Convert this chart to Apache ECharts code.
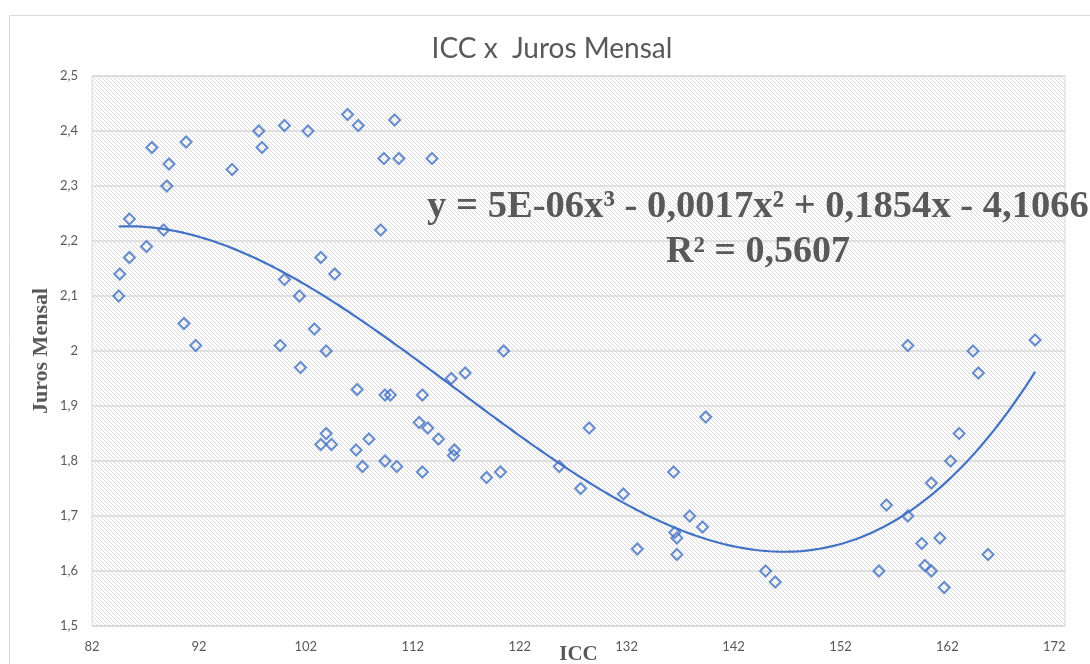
<!DOCTYPE html>
<html>
<head>
<meta charset="utf-8">
<title>ICC x Juros Mensal</title>
<script src="https://cdn.jsdelivr.net/npm/echarts@6/dist/echarts.min.js"></script>
<style>
    html, body { margin: 0; padding: 0; background: #fff; }
    #chart { width: 1090px; height: 664px; }
</style>
</head>
<body>
<div id="chart"></div>
<script>
// ICC (eixo x)
const icc = [
    84.5, 84.6, 85.5, 85.5, 87.1, 87.6, 88.7, 89.0, 89.2, 90.6,
    90.8, 91.7, 95.1, 97.6, 97.9, 99.6, 100.0, 100.0, 101.4, 101.5,
    102.2, 102.8, 103.4, 103.4, 103.9, 103.9, 104.4, 104.7, 105.9, 106.7,
    106.8, 106.9, 107.3, 107.9, 109.0, 109.3, 109.4, 109.4, 109.9, 110.3,
    110.5, 110.7, 112.6, 112.9, 112.9, 113.4, 113.8, 114.4, 115.6, 115.8,
    115.9, 116.9, 118.9, 120.2, 120.5, 125.7, 127.7, 128.5, 131.7, 133.0,
    136.4, 136.5, 136.7, 136.7, 137.9, 139.1, 139.4, 145.0, 145.9, 155.6,
    156.3, 158.3, 158.3, 159.6, 159.9, 160.5, 160.5, 161.3, 161.7, 162.3,
    163.1, 164.4, 164.9, 165.8, 170.2
];
// Juros mensal (eixo y)
const juros = [
    2.10, 2.14, 2.17, 2.24, 2.19, 2.37, 2.22, 2.30, 2.34, 2.05,
    2.38, 2.01, 2.33, 2.40, 2.37, 2.01, 2.41, 2.13, 2.10, 1.97,
    2.40, 2.04, 2.17, 1.83, 2.00, 1.85, 1.83, 2.14, 2.43, 1.82,
    1.93, 2.41, 1.79, 1.84, 2.22, 2.35, 1.92, 1.80, 1.92, 2.42,
    1.79, 2.35, 1.87, 1.92, 1.78, 1.86, 2.35, 1.84, 1.95, 1.81,
    1.82, 1.96, 1.77, 1.78, 2.00, 1.79, 1.75, 1.86, 1.74, 1.64,
    1.78, 1.67, 1.66, 1.63, 1.70, 1.68, 1.88, 1.60, 1.58, 1.60,
    1.72, 1.70, 2.01, 1.65, 1.61, 1.76, 1.60, 1.66, 1.57, 1.80,
    1.85, 2.00, 1.96, 1.63, 2.02
];

const equationText = "y = 5E-06x³ - 0,0017x² + 0,1854x - 4,1066";
const r2Text = "R² = 0,5607";

// pontos do gráfico
let points = [];
for (let i = 0; i < icc.length; i++) {
    points.push([icc[i], juros[i]]);
}

// linha de tendência polinomial (grau 3) por mínimos quadrados
function polyFit(xs, ys, degree) {
    const n = degree + 1;
    let A = [];
    for (let r = 0; r < n; r++) {
        A.push(new Array(n + 1).fill(0));
    }
    for (let k = 0; k < xs.length; k++) {
        for (let r = 0; r < n; r++) {
            for (let c = 0; c < n; c++) {
                A[r][c] += Math.pow(xs[k], r + c);
            }
            A[r][n] += ys[k] * Math.pow(xs[k], r);
        }
    }
    // eliminação de Gauss
    for (let i = 0; i < n; i++) {
        let max = i;
        for (let j = i + 1; j < n; j++) {
            if (Math.abs(A[j][i]) > Math.abs(A[max][i])) max = j;
        }
        [A[i], A[max]] = [A[max], A[i]];
        for (let j = i + 1; j < n; j++) {
            const f = A[j][i] / A[i][i];
            for (let c = i; c <= n; c++) A[j][c] -= f * A[i][c];
        }
    }
    let coef = new Array(n).fill(0);
    for (let i = n - 1; i >= 0; i--) {
        let s = A[i][n];
        for (let c = i + 1; c < n; c++) s -= A[i][c] * coef[c];
        coef[i] = s / A[i][i];
    }
    return coef;
}

// centraliza x para estabilidade numérica
const xMean = icc.reduce((a, b) => a + b, 0) / icc.length;
const coef = polyFit(icc.map(v => v - xMean), juros, 3);
const xMin = Math.min(...icc);
const xMax = Math.max(...icc);
let trendPoints = [];
for (let i = 0; i <= 200; i++) {
    const x = xMin + (xMax - xMin) * i / 200;
    const t = x - xMean;
    trendPoints.push([x, coef[0] + coef[1] * t + coef[2] * t * t + coef[3] * t * t * t]);
}

// fundo hachurado da área do gráfico
function makeHatch() {
    const c = document.createElement("canvas");
    c.width = 4;
    c.height = 4;
    const ctx = c.getContext("2d");
    ctx.fillStyle = "#ffffff";
    ctx.fillRect(0, 0, 4, 4);
    ctx.fillStyle = "#dadada";
    for (let i = 0; i < 4; i++) ctx.fillRect(i, i, 1, 1);
    return c;
}

const textColor = "#595959";
const blue = "#4472C4";

let chart = echarts.init(document.getElementById("chart"));

let option = {
    animation: false,
    backgroundColor: "#ffffff",
    title: [{
        text: "ICC x  Juros Mensal",
        left: 547,
        top: 30,
        textAlign: "center",
        textStyle: {color: textColor, fontFamily: "Lato", fontWeight: "normal", fontSize: 28}
    }, {
        text: equationText,
        left: 753,
        top: 183,
        textAlign: "center",
        textStyle: {color: textColor, fontFamily: "Liberation Serif", fontWeight: "bold", fontSize: 38.6}
    }, {
        text: r2Text,
        left: 753,
        top: 228,
        textAlign: "center",
        textStyle: {color: textColor, fontFamily: "Liberation Serif", fontWeight: "bold", fontSize: 38}
    }],
    graphic: [{
        type: "rect",
        left: 7,
        top: 13,
        shape: {width: 1200, height: 800},
        style: {fill: "none", stroke: "#d9d9d9", lineWidth: 1},
        silent: true
    }],
    grid: {
        left: 92,
        right: 25,
        top: 76,
        bottom: 38,
        outerBoundsMode: "none",
        containLabel: false,
        show: true,
        backgroundColor: {image: makeHatch(), repeat: "repeat"},
        borderColor: "#d9d9d9",
        borderWidth: 1
    },
    xAxis: {
        type: "value",
        min: 82,
        max: 173,
        interval: 10,
        name: "ICC",
        nameLocation: "middle",
        nameGap: 18,
        nameMoveOverlap: false,
        nameTextStyle: {color: textColor, fontFamily: "Liberation Serif", fontWeight: "bold", fontSize: 21},
        axisLine: {show: false},
        axisTick: {show: false},
        splitLine: {show: false},
        axisLabel: {
            color: textColor,
            fontFamily: "Lato",
            fontSize: 13,
            margin: 14,
            showMaxLabel: false
        }
    },
    yAxis: {
        type: "value",
        min: 1.5,
        max: 2.5,
        interval: 0.1,
        name: "Juros Mensal",
        nameLocation: "middle",
        nameGap: 40,
        nameMoveOverlap: false,
        nameTextStyle: {color: textColor, fontFamily: "Liberation Serif", fontWeight: "bold", fontSize: 22},
        axisLine: {show: false},
        axisTick: {show: false},
        splitLine: {lineStyle: {color: "#d9d9d9", width: 1.5}},
        axisLabel: {
            color: textColor,
            fontFamily: "Lato",
            fontSize: 13,
            margin: 14,
            formatter: function (v) {
                return String(Math.round(v * 10) / 10).replace(".", ",");
            }
        }
    },
    series: [{
        name: "Juros Mensal",
        type: "scatter",
        data: points,
        symbol: "diamond",
        symbolSize: 11,
        itemStyle: {color: "rgba(255,255,255,0)", borderColor: blue, borderWidth: 2},
        z: 3
    }, {
        name: "Tendência",
        type: "line",
        data: trendPoints,
        showSymbol: false,
        smooth: false,
        lineStyle: {color: blue, width: 2.2},
        z: 2
    }]
};

chart.setOption(option);
</script>
</body>
</html>
